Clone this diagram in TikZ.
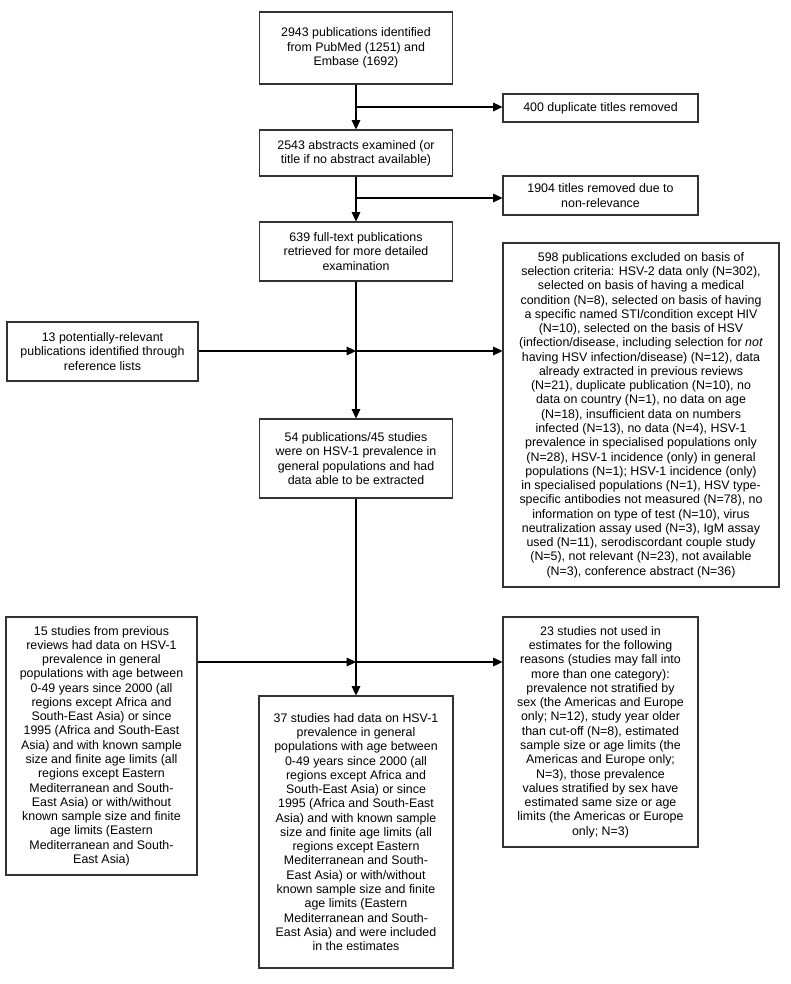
\documentclass[tikz,border=0pt]{standalone}
\usepackage{fontspec}
\setmainfont{Liberation Sans}
\usetikzlibrary{arrows.meta}
\begin{document}
\begin{tikzpicture}[x=0.75pt,y=-0.75pt,line width=0.8pt,
  >={Triangle[length=7pt,width=6.5pt]},
  box/.style={draw=black!80,align=center,inner sep=2pt,
    font=\fontsize{9.3}{10.7}\selectfont}]
\useasboundingbox (0,0) rectangle (790,984);
% main column
\node[box,minimum width=145pt,minimum height=54pt] (search) at (356,48)
  {2943 publications identified\\from PubMed (1251) and\\Embase (1692)};
\node[box,minimum width=145pt,minimum height=34.5pt] (abstr) at (356,153)
  {2543 abstracts examined (or\\title if no abstract available)};
\node[box,minimum width=145pt,minimum height=44.25pt] (fulltext) at (356,251.5)
  {639 full-text publications\\retrieved for more detailed\\examination};
\node[box,minimum width=145pt,minimum height=59.25pt] (eligible) at (356,458.5)
  {54 publications/45 studies\\were on HSV-1 prevalence in\\general populations and had\\data able to be extracted};
\node[box,minimum width=145.5pt,minimum height=204pt] (final) at (356,832)
  {37 studies had data on HSV-1\\prevalence in general\\populations with age between\\0-49 years since 2000 (all\\regions except Africa and\\South-East Asia) or since\\1995 (Africa and South-East\\Asia) and with known sample\\size and finite age limits (all\\regions except Eastern\\Mediterranean and South-\\East Asia) or with/without\\known sample size and finite\\age limits (Eastern\\Mediterranean and South-\\East Asia) and were included\\in the estimates};
% exclusions
\node[box,minimum width=146.25pt,minimum height=21pt] (dupl) at (600.5,108)
  {400 duplicate titles removed};
\node[box,minimum width=146.25pt,minimum height=29.25pt] (irrel) at (600.5,195.5)
  {1904 titles removed due to\\non-relevance};
\node[box,minimum width=207pt,minimum height=258pt] (excl) at (641,415)
  {598 publications excluded on basis of\\selection criteria: HSV-2 data only (N=302),\\selected on basis of having a medical\\condition (N=8), selected on basis of having\\a specific named STI/condition except HIV\\(N=10), selected on the basis of HSV\\(infection/disease, including selection for \textit{not}\\having HSV infection/disease) (N=12), data\\already extracted in previous reviews\\(N=21), duplicate publication (N=10), no\\data on country (N=1), no data on age\\(N=18), insufficient data on numbers\\infected (N=13), no data (N=4), HSV-1\\prevalence in specialised populations only\\(N=28), HSV-1 incidence (only) in general\\populations (N=1); HSV-1 incidence (only)\\in specialised populations (N=1), HSV type-\\specific antibodies not measured (N=78), no\\information on type of test (N=10), virus\\neutralization assay used (N=3), IgM assay\\used (N=11), serodiscordant couple study\\(N=5), not relevant (N=23), not available\\(N=3), conference abstract (N=36)};
\node[box,minimum width=146.25pt,minimum height=172.5pt] (notused) at (600.5,732)
  {23 studies not used in\\estimates for the following\\reasons (studies may fall into\\more than one category):\\prevalence not stratified by\\sex (the Americas and Europe\\only; N=12), study year older\\than cut-off (N=8), estimated\\sample size or age limits (the\\Americas and Europe only;\\N=3), those prevalence\\values stratified by sex have\\estimated same size or age\\limits (the Americas or Europe\\only; N=3)};
% additions
\node[box,minimum width=143.25pt,minimum height=44.25pt] (refs) at (102.5,351.5)
  {13 potentially-relevant\\publications identified through\\reference lists};
\node[box,minimum width=143.25pt,minimum height=193.5pt] (prev) at (101.5,746)
  {15 studies from previous\\reviews had data on HSV-1\\prevalence in general\\populations with age between\\0-49 years since 2000 (all\\regions except Africa and\\South-East Asia) or since\\1995 (Africa and South-East\\Asia) and with known sample\\size and finite age limits (all\\regions except Eastern\\Mediterranean and South-\\East Asia) or with/without\\known sample size and finite\\age limits (Eastern\\Mediterranean and South-\\East Asia)};
% joins on the spine
\coordinate (j1) at (356,107);
\coordinate (j2) at (356,198);
\coordinate (j3) at (356,351);
\coordinate (j4) at (356,662);
\draw[->] (search) -- (abstr);
\draw[->] (j1) -- (j1 -| dupl.west);
\draw[->] (abstr) -- (fulltext);
\draw[->] (j2) -- (j2 -| irrel.west);
\draw[->] (fulltext) -- (eligible);
\draw[->] (j3 -| refs.east) -- (j3);
\draw[->] (j3) -- (j3 -| excl.west);
\draw[->] (eligible) -- (final);
\draw[->] (j4 -| prev.east) -- (j4);
\draw[->] (j4) -- (j4 -| notused.west);
\end{tikzpicture}
\end{document}
